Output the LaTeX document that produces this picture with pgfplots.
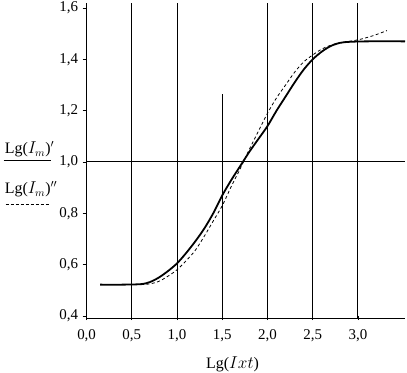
\documentclass[border=0pt]{standalone}
\usepackage{fontspec}
\setmainfont{Liberation Serif}
\usepackage{pgfplots}
\pgfplotsset{compat=1.18}
\begin{document}
\fontsize{16}{18}\selectfont
\begin{tikzpicture}
\begin{axis}[
  scale only axis, width=318.4bp, height=315bp,
  xmin=0, xmax=3.52, ymin=0.392, ymax=1.6195,
  axis x line*=bottom, axis y line*=left,
  axis line style={-, line width=1pt},
  xtick={0,0.5,1,1.5,2,2.5,3}, ytick={0.4,0.6,0.8,1.0,1.2,1.4,1.6},
  tick style={black, line width=0.8pt}, major tick length=4bp,
  xtick align=center, ytick align=outside,
  /pgf/number format/.cd, fixed, fixed zerofill, precision=1, use comma, assume math mode=true,
  /pgfplots/.cd,
  xticklabel style={yshift=-4bp},
  yticklabel style={xshift=1bp},
  ticklabel style={font=\fontsize{15}{17}\selectfont},
  clip=false,
]
% grid lines
\addplot[black, line width=1pt] coordinates {(0.5,0.392) (0.5,1.6195)};
\addplot[black, line width=1pt] coordinates {(1.0,0.392) (1.0,1.6195)};
\addplot[black, line width=1pt] coordinates {(1.5,0.392) (1.5,1.265)};
\addplot[black, line width=1pt] coordinates {(2.0,0.392) (2.0,1.6195)};
\addplot[black, line width=1pt] coordinates {(2.5,0.392) (2.5,1.6195)};
\addplot[black, line width=1pt] coordinates {(3.0,0.392) (3.0,1.6195)};
\addplot[black, line width=1pt] coordinates {(0,1.0) (3.52,1.0)};
% solid curve
\addplot[black, line width=1.8pt, smooth] coordinates {
(0.15,0.522) (0.4,0.522) (0.6,0.524) (0.7,0.532) (0.8,0.550) (0.9,0.575) (1.0,0.605)
(1.1,0.645) (1.2,0.690) (1.3,0.740) (1.4,0.800) (1.5,0.870) (1.6,0.930) (1.7,0.985)
(1.8,1.040) (1.9,1.090) (2.0,1.140) (2.1,1.200) (2.2,1.255) (2.3,1.310) (2.4,1.360)
(2.5,1.400) (2.6,1.430) (2.7,1.452) (2.8,1.464) (2.9,1.468) (3.1,1.470) (3.52,1.470)};
% dashed curve
\addplot[black, line width=0.8pt, dash pattern=on 3bp off 2.5bp, smooth] coordinates {
(0.6,0.522) (0.7,0.525) (0.8,0.535) (0.9,0.555) (1.0,0.580) (1.1,0.615) (1.2,0.655)
(1.3,0.710) (1.4,0.770) (1.5,0.830) (1.6,0.905) (1.7,0.975) (1.8,1.050) (1.9,1.120)
(2.0,1.190) (2.1,1.250) (2.2,1.300) (2.3,1.350) (2.4,1.390) (2.5,1.417) (2.6,1.440)
(2.7,1.455) (2.8,1.465) (2.9,1.470) (3.0,1.476) (3.1,1.485) (3.2,1.496) (3.32,1.512)};
\end{axis}
\node[anchor=base west, inner sep=0pt] at (-82bp,164bp) {Lg($I_{m}$)$'$};
\draw[black, line width=0.8pt] (-83bp,158bp) -- (-36bp,158bp);
\node[anchor=base west, inner sep=0pt] at (-82bp,124bp) {Lg($I_{m}$)$''$};
\draw[black, line width=0.8pt, dash pattern=on 3bp off 2bp] (-81bp,114bp) -- (-38bp,114bp);
\node[anchor=base, inner sep=0pt] at (146bp,-50bp) {Lg($Ixt$)};
\pgfresetboundingbox
\path[use as bounding box] (-86.6bp,-55bp) rectangle (320.4bp,318bp);
\end{tikzpicture}
\end{document}
